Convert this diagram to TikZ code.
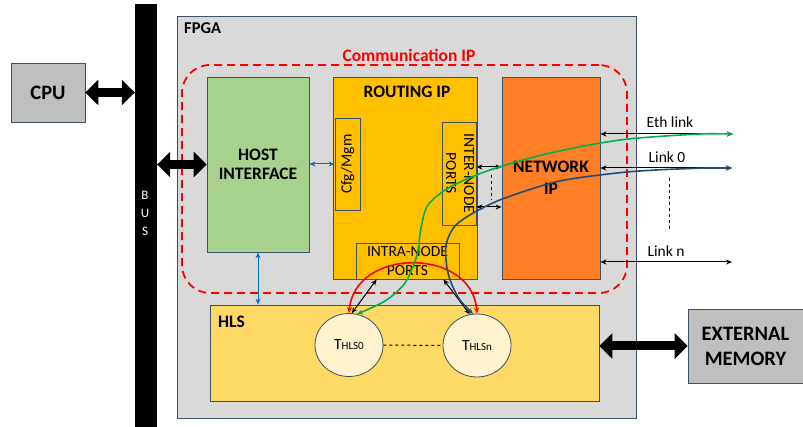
\documentclass[tikz,border=0pt]{standalone}
\usepackage{fontspec}
\setmainfont{Carlito}
\usetikzlibrary{arrows.meta,shapes.geometric,calc}
\definecolor{fpgagray}{HTML}{D9D9D9}
\definecolor{boxgray}{HTML}{BFBFBF}
\definecolor{hostgreen}{HTML}{A9D18E}
\definecolor{routeyellow}{HTML}{FFC000}
\definecolor{netorange}{HTML}{FF7F27}
\definecolor{hlsyellow}{HTML}{FFD966}
\definecolor{circfill}{HTML}{FFF2CC}
\definecolor{bordercol}{HTML}{3E4F66}
\definecolor{linkgreen}{HTML}{00B050}
\definecolor{linkblue}{HTML}{1F4E79}
\definecolor{arrblue}{HTML}{0070C0}
\newcommand{\mythls}[1]{{\fontsize{15.5}{17}\selectfont T}{\fontsize{11}{13}\selectfont HLS#1}}
\begin{document}
\begin{tikzpicture}[x=1pt,y=-1pt,
  box/.style={draw=bordercol, line width=0.8pt, inner sep=0pt, align=center},
  boldlbl/.style={font=\fontsize{17.5}{20}\selectfont\bfseries, align=center},
  biglbl/.style={font=\fontsize{20.5}{25}\selectfont\bfseries, align=center},
  plainlbl/.style={font=\fontsize{15.5}{19}\selectfont, align=center},
  linklbl/.style={font=\fontsize{15.5}{18}\selectfont, inner sep=0pt},
  bigarrow/.style={line width=9pt, arrows={Triangle[length=13pt,width=25pt]-Triangle[length=13pt,width=25pt]}},
  tips/.style={arrows={Stealth[length=6pt,width=5pt]-Stealth[length=6pt,width=5pt]}},
  thinarrow/.style={line width=1pt, tips},
  curvearrow/.style={line width=1.6pt, tips}
]
\useasboundingbox (0,0) rectangle (803,427);

% bus and CPU
\node[fill=black, inner sep=0pt, minimum width=22pt, minimum height=423pt] (bus) at (146,215.5) {};
\node[text=white, font=\fontsize{13}{18}\selectfont, align=center, inner sep=0pt] (buslbl) at (145,213) {B\\U\\S};
\node[box, fill=boxgray, minimum width=74pt, minimum height=59pt, biglbl] (cpu) at (48,92.5) {CPU};

% FPGA
\node[box, fill=fpgagray, minimum width=459pt, minimum height=402pt] (fpga) at (406.5,217) {};
\node[boldlbl, font=\fontsize{16.5}{20}\selectfont\bfseries, anchor=west, inner sep=0pt] (fpgalbl) at (184,28) {FPGA};

% communication IP dashed region
\node[draw=red, line width=1.8pt, dash pattern=on 8pt off 5pt, rounded corners=28pt,
      minimum width=445pt, minimum height=228pt, inner sep=0pt] (comm) at (404.5,179) {};
\node[boldlbl, text=red, inner sep=0pt] (commlbl) at (409,55.5) {Communication IP};

% host interface
\node[box, fill=hostgreen, minimum width=102pt, minimum height=175pt, boldlbl] (host) at (258,164.5) {HOST\\[-1pt]INTERFACE};

% routing IP
\node[box, fill=routeyellow, minimum width=144pt, minimum height=202pt] (routing) at (405,178) {};
\node[boldlbl, inner sep=0pt] (routlbl) at (407,92) {ROUTING IP};
\node[box, fill=routeyellow, minimum width=25pt, minimum height=92pt] (cfg) at (347.5,164) {};
\node[plainlbl, rotate=90, inner sep=0pt] (cfglbl) at (cfg.center) {Cfg/Mgm};
\node[box, fill=routeyellow, minimum width=34pt, minimum height=103pt] (inter) at (459,173.5) {};
\node[plainlbl, font=\fontsize{15.5}{18}\selectfont, rotate=-90, inner sep=0pt] (interlbl) at (460,173.5) {INTER-NODE\\PORTS};
\node[box, fill=routeyellow, minimum width=103pt, minimum height=36pt, plainlbl] (intra) at (407.5,261) {INTRA-NODE\\PORTS};

% network IP
\node[box, fill=netorange, minimum width=98pt, minimum height=202pt, boldlbl, font=\fontsize{17.5}{22}\selectfont\bfseries] (network) at (551,178) {NETWORK\\IP};

% HLS
\node[box, fill=hlsyellow, minimum width=389pt, minimum height=96pt] (hls) at (404.5,353) {};
\node[boldlbl, anchor=west, inner sep=0pt] (hlslbl) at (218,322) {HLS};
\node[ellipse, draw=bordercol, line width=0.8pt, fill=circfill, minimum width=68pt, minimum height=63pt, inner sep=0pt] (t0) at (349,345) {\mythls{0}};
\node[ellipse, draw=bordercol, line width=0.8pt, fill=circfill, minimum width=68pt, minimum height=63pt, inner sep=0pt] (tn) at (477,345.5) {\mythls{n}};
\draw[dashed, line width=1pt] (t0.east) -- (tn.west);

% external memory
\node[box, fill=boxgray, minimum width=115pt, minimum height=74pt, biglbl] (ext) at (745.5,346) {EXTERNAL\\MEMORY};

% big arrows
\draw[bigarrow] (cpu.east) -- (cpu.east -| bus.west);
\draw[bigarrow] (host.west -| bus.east) -- (host.west);
\draw[bigarrow] (hls.east |- ext.west) -- (ext.west);

% blue arrows
\draw[arrblue, thinarrow] (host.east |- cfg.west) -- (cfg.west);
\draw[arrblue, thinarrow] (host.south) -- (host.south |- hls.north);

% ports to network
\coordinate (pa) at (0,167);
\coordinate (pb) at (0,207);
\draw[thinarrow] (inter.east |- pa) -- (network.west |- pa);
\draw[thinarrow] (inter.east |- pb) -- (network.west |- pb);
\draw[dashed, line width=0.8pt] (491,175) -- (491,200);

% links
\coordinate (eth) at (733,134);
\coordinate (l0) at (732,168);
\coordinate (ln) at (732,262);
\draw[thinarrow] (network.east |- eth) -- (eth);
\draw[thinarrow] (network.east |- l0) -- (l0);
\draw[thinarrow] (network.east |- ln) -- (ln);
\draw[dashed, line width=0.8pt] (669,178) -- (669,232);
\node[linklbl] (ethlbl) at (670,122) {Eth link};
\node[linklbl] (l0lbl) at (667,157) {Link 0};
\node[linklbl] (lnlbl) at (666,251) {Link n};

% intra-node to threads
\draw[thinarrow] (t0.85) -- ([xshift=21pt]intra.south west);
\draw[thinarrow] (tn.103) -- ([xshift=-16pt]intra.south east);
\draw[red, curvearrow] (t0.north) .. controls (355,247) and (472,247) .. (tn.north);

% green and blue paths
\draw[linkgreen, curvearrow] plot[smooth] coordinates {(733,134) (690,134.5) (620,140) (550,153) (490,170) (450,187) (428,205) (421,228) (417,255) (405,283) (385,301) (357,314)};
\draw[linkblue, curvearrow] plot[smooth] coordinates {(732,168) (690,168.5) (627,172) (560,181) (505,198) (475,212) (455,226) (446,245) (447,268) (452,285) (460,300) (473,314)};
\end{tikzpicture}
\end{document}
